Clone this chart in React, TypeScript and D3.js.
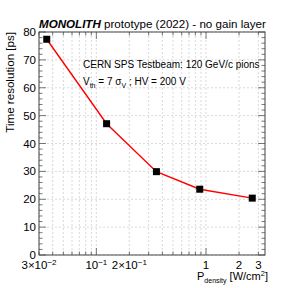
import React from "react";
import * as d3 from "d3";

// MONOLITH prototype: time resolution vs power density
const power = [0.0353, 0.124, 0.353, 0.877, 2.64];
const resolution = [77.4, 47.1, 29.9, 23.6, 20.4];
const yTicks = [0, 10, 20, 30, 40, 50, 60, 70, 80];
const xLabels = [
  { v: 0.03, m: "3\u00d710", e: "\u22122" },
  { v: 0.1, m: "10", e: "\u22121" },
  { v: 0.2, m: "2\u00d710", e: "\u22121" },
  { v: 1, m: "1", e: "" },
  { v: 2, m: "2", e: "" },
  { v: 3, m: "3", e: "" },
];

const W = 299, H = 288;
const m = { left: 39, right: 265, top: 32, bottom: 255 };
const font = "Liberation Sans, Arial, Helvetica, sans-serif";

export default function App() {
  const x = d3.scaleLog().domain([0.03, 3.45]).range([m.left, m.right]);
  const y = d3.scaleLinear().domain([0, 80]).range([m.bottom, m.top]);

  // all log ticks inside the range
  let xAll: number[] = [];
  for (let d = 0.01; d <= 1; d *= 10) {
    for (let k = 1; k <= 9; k++) {
      const v = +(k * d).toPrecision(3);
      if (v >= 0.03 && v <= 3.45) xAll.push(v);
    }
  }
  const isMajor = (v: number) => Math.abs(Math.log10(v) - Math.round(Math.log10(v))) < 1e-6;
  const yMinor = d3.range(0, 81, 2);

  const line = d3.line<number>().x((d, i) => x(power[i])).y((d) => y(d));

  const grid = "#c8c8c8";
  return (
    <svg width={W} height={H} style={{ position: "absolute", left: 0, top: 0 }} fontFamily={font}>
      <rect width={W} height={H} fill="white" />
      {/* grid */}
      {xAll.map((v) => (
        <line key={"gx" + v} x1={x(v)} x2={x(v)} y1={m.top} y2={m.bottom} stroke={grid} strokeWidth={0.7} strokeDasharray="2,2" />
      ))}
      {yTicks.map((v) => (
        <line key={"gy" + v} x1={m.left} x2={m.right} y1={y(v)} y2={y(v)} stroke={grid} strokeWidth={0.7} strokeDasharray="2,2" />
      ))}
      {/* ticks */}
      {yMinor.map((v) => {
        const len = v % 10 === 0 ? 7 : 3.5;
        return (
          <g key={"ty" + v} stroke="#555" strokeWidth={0.8}>
            <line x1={m.left} x2={m.left + len} y1={y(v)} y2={y(v)} />
            <line x1={m.right} x2={m.right - len} y1={y(v)} y2={y(v)} />
          </g>
        );
      })}
      {xAll.map((v) => {
        const len = isMajor(v) ? 7 : 3.5;
        return (
          <g key={"tx" + v} stroke="#555" strokeWidth={0.8}>
            <line x1={x(v)} x2={x(v)} y1={m.bottom} y2={m.bottom - len} />
            <line x1={x(v)} x2={x(v)} y1={m.top} y2={m.top + len} />
          </g>
        );
      })}
      <rect x={m.left} y={m.top} width={m.right - m.left} height={m.bottom - m.top} fill="none" stroke="#444" strokeWidth={1} />
      {/* y tick labels */}
      {yTicks.map((v) => (
        <text key={"ly" + v} x={m.left - 3} y={y(v) + 4} textAnchor="end" fontSize={11.5}>
          {v}
        </text>
      ))}
      {/* x tick labels */}
      {xLabels.map((l) => (
        <text key={"lx" + l.v} x={x(l.v)} y={269} textAnchor="middle" fontSize={11.5}>
          {l.m}
          {l.e && (
            <tspan dy={-4.5} fontSize={8}>
              {l.e}
            </tspan>
          )}
        </text>
      ))}
      {/* data */}
      <path d={line(resolution) || ""} fill="none" stroke="#ff0000" strokeWidth={1.4} />
      {resolution.map((v, i) => (
        <rect key={"p" + i} x={x(power[i]) - 3.5} y={y(v) - 3.5} width={7} height={7} fill="black" />
      ))}
      {/* titles */}
      <text x={39} y={28} fontSize={11.6}>
        <tspan fontWeight="bold" fontStyle="italic">MONOLITH</tspan>
        <tspan> prototype (2022) - no gain layer</tspan>
      </text>
      <text x={83} y={68} fontSize={10}>CERN SPS Testbeam: 120 GeV/c pions</text>
      <text x={83} y={85} fontSize={10}>
        V<tspan dy={2.5} fontSize={7}>th</tspan>
        <tspan dy={-2.5}> = 7 </tspan>
        {"\u03c3"}
        <tspan dy={2.5} fontSize={7}>V</tspan>
        <tspan dy={-2.5}> ; HV = 200 V</tspan>
      </text>
      <text transform={`translate(14,32) rotate(-90)`} textAnchor="end" fontSize={11.6}>
        Time resolution [ps]
      </text>
      <text x={268} y={280} textAnchor="end" fontSize={11}>
        P<tspan dy={3} fontSize={7}>density</tspan>
        <tspan dy={-3}> [W/cm</tspan>
        <tspan dy={-4.5} fontSize={7.5}>2</tspan>
        <tspan dy={4.5}>]</tspan>
      </text>
    </svg>
  );
}
